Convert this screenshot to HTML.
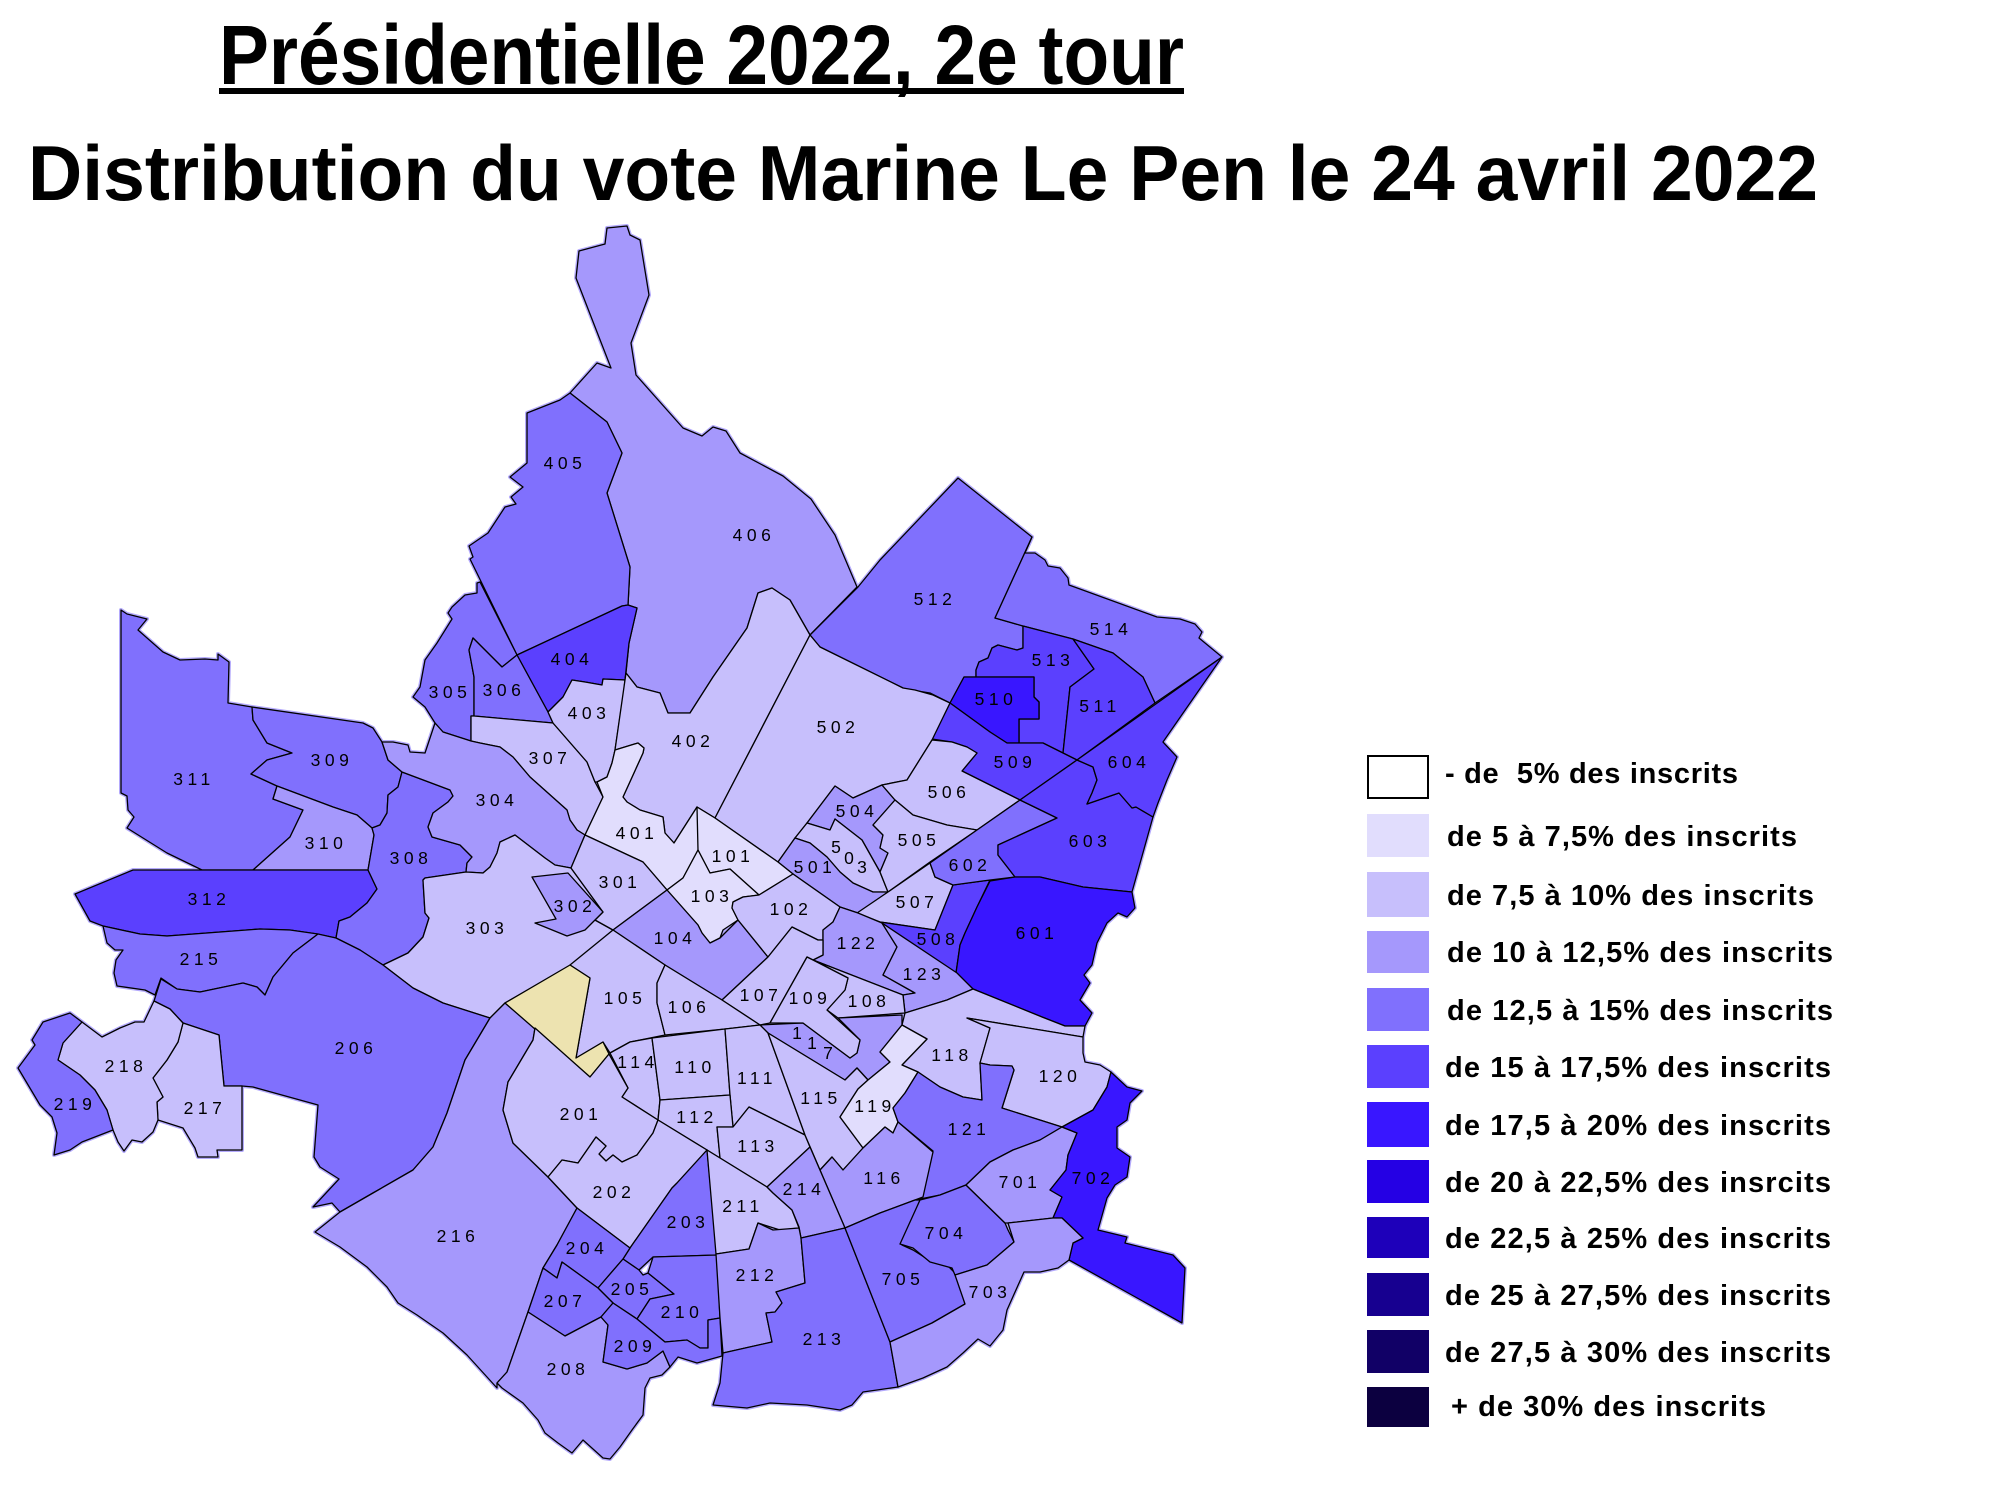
<!DOCTYPE html>
<html>
<head>
<meta charset="utf-8">
<style>
html,body{margin:0;padding:0;background:#fff;}
svg{display:block;}
.l{font-family:"Liberation Sans",sans-serif;font-size:17.5px;letter-spacing:4.5px;text-anchor:middle;fill:#000;}
.s{font-family:"Liberation Sans",sans-serif;font-size:17.5px;text-anchor:middle;fill:#000;}
.lg{font-family:"Liberation Sans",sans-serif;font-weight:bold;font-size:29px;fill:#000;}
.t{font-family:"Liberation Sans Narrow","Liberation Sans",sans-serif;font-weight:bold;fill:#000;}
</style>
</head>
<body>
<svg width="2000" height="1500" viewBox="0 0 2000 1500" xmlns="http://www.w3.org/2000/svg" xmlns:xlink="http://www.w3.org/1999/xlink">
<rect x="0" y="0" width="2000" height="1500" fill="#fff"/>

<defs>
<g id="map">
<!-- North 400s -->
<polygon fill="#A598FC" points="607,228 627,226 630,235 640,240 649,295 631,343 636,375 683,428 702,436 713,427 726,431 740,453 783,476 811,499 835,535 857,587 810,635 790,600 772,588 758,593 747,628 713,677 690,713 668,713 660,693 637,687 626,673 629,643 637,608 628,605 630,567 607,493 622,453 607,422 570,393 597,363 611,368 576,278 579,251 605,244"/>
<polygon fill="#8070FD" points="570,393 560,400 527,413 527,463 510,477 523,487 511,497 516,504 505,507 488,533 469,546 473,557 470,559 517,655 622,606 628,605 630,567 607,493 622,453 607,422"/>
<polygon fill="#5B40FE" points="517,655 622,606 628,605 637,608 629,643 625,680 603,679 602,685 585,682 572,680 563,697 548,712"/>
<polygon fill="#8070FD" points="480,582 517,655 502,667 473,638 469,650 474,677 474,716 471,716 471,741 443,732 435,723 425,707 413,697 420,687 425,660 437,643 452,619 448,613 452,607 465,595 477,593 477,583"/>
<polygon fill="#8070FD" points="473,638 502,667 517,655 548,712 553,723 474,716 474,677 469,650"/>
<polygon fill="#C7BFFC" points="474,716 553,723 587,762 595,782 603,797 585,835 577,830 570,820 567,810 530,777 513,757 500,747 480,743 471,741 471,716"/>
<polygon fill="#C7BFFC" points="548,712 563,697 572,680 585,682 602,685 603,679 625,680 624,690 615,750 612,763 607,777 597,782 595,782 587,762 553,723"/>
<polygon fill="#C7BFFC" points="625,680 626,673 637,687 660,693 668,713 690,713 713,677 747,628 758,593 772,588 790,600 810,635 715,818 697,807 674,843 665,833 663,817 640,810 627,802 623,797 643,753 644,748 638,743 615,750"/>
<polygon fill="#E1DDFD" points="603,797 597,782 607,777 612,763 615,750 638,743 644,748 643,753 623,797 627,802 640,810 663,817 665,833 674,843 697,807 715,818 698,850 683,878 667,890 643,862 585,835"/>

<!-- 500s -->
<polygon fill="#8070FD" points="858,587 880,560 958,478 1032,537 995,618 1023,626 1023,648 1017,650 998,645 992,648 988,658 979,662 976,670 976,677 964,677 950,703 930,693 905,689 903,688 820,647 810,635"/>
<polygon fill="#8070FD" points="1032,537 1025,553 1035,553 1045,560 1048,566 1060,568 1068,578 1069,585 1157,617 1180,619 1195,624 1202,632 1199,638 1222,657 1155,703 1143,677 1113,653 1073,639 1023,626 995,618"/>
<polygon fill="#5B40FE" points="976,677 976,670 979,662 988,658 992,648 998,645 1017,650 1023,648 1023,626 1073,639 1094,669 1070,687 1063,753 1043,743 1019,743 1019,719 1039,719 1039,702 1034,697 1034,677"/>
<polygon fill="#5B40FE" points="1073,639 1113,653 1143,677 1155,703 1077,760 1063,753 1070,687 1094,669"/>
<polygon fill="#3916FF" points="964,677 1034,677 1034,697 1039,702 1039,719 1019,719 1019,743 1007,743 990,732 950,703"/>
<polygon fill="#5B40FE" points="932,739 950,703 990,732 1007,743 1043,743 1063,753 1077,760 1020,800 962,771 977,753 967,747 952,742"/>
<polygon fill="#C7BFFC" points="810,635 820,647 903,688 915,690 933,695 950,703 932,740 907,780 882,785 853,798 835,786 807,823 795,838 778,862 715,818"/>
<polygon fill="#A598FC" points="835,786 853,798 882,785 895,800 873,825 883,835 880,848 888,853 880,872 862,840 835,819 830,830 807,823"/>
<polygon fill="#C7BFFC" points="795,838 807,823 830,830 835,819 862,840 880,872 888,892 873,892 853,883 840,872 827,857 810,843"/>
<polygon fill="#A598FC" points="778,862 795,838 810,843 827,857 840,872 853,883 873,892 888,892 858,913 840,907 793,874"/>
<polygon fill="#C7BFFC" points="882,785 907,780 932,740 952,742 967,747 977,753 962,771 1020,800 977,830 947,825 913,815 895,800"/>
<polygon fill="#C7BFFC" points="895,800 913,815 947,825 977,830 930,862 888,892 880,872 888,853 880,848 883,835 873,825"/>
<polygon fill="#C7BFFC" points="930,863 935,877 953,885 935,930 880,922 857,913 888,892"/>
<polygon fill="#5B40FE" points="953,885 990,880 977,907 965,933 960,945 956,973 883,925 880,922 935,930"/>

<!-- 600s -->
<polygon fill="#8070FD" points="1020,800 1057,818 998,845 998,855 1015,877 990,880 953,885 935,877 930,863 977,830"/>
<polygon fill="#5B40FE" points="1020,800 1077,760 1093,767 1097,780 1092,793 1087,804 1119,793 1132,808 1136,807 1153,817 1132,892 1083,887 1040,877 1015,877 998,855 998,845 1057,818"/>
<polygon fill="#5B40FE" points="1222,657 1163,742 1177,757 1167,780 1158,803 1153,817 1136,807 1132,808 1119,793 1087,804 1092,793 1097,780 1093,767 1077,760"/>
<polygon fill="#3916FF" points="990,881 1015,877 1040,877 1083,887 1132,892 1135,908 1127,917 1118,913 1107,923 1097,943 1092,965 1084,975 1090,983 1080,1000 1092,1013 1085,1026 1065,1026 1042,1017 973,989 956,973 960,945 965,933 977,907"/>

<!-- West 300s -->
<polygon fill="#8070FD" points="121,610 127,614 147,619 138,630 163,652 180,660 205,659 218,660 218,654 229,662 228,703 252,707 253,720 267,743 292,753 267,760 251,774 277,786 273,799 303,810 290,837 253,870 202,870 167,853 127,828 134,817 128,810 127,796 121,793"/>
<polygon fill="#8070FD" points="252,707 363,723 373,728 382,742 388,760 402,772 398,787 388,795 387,813 380,825 372,828 357,815 333,807 277,786 251,774 267,760 292,753 267,743 253,720"/>
<polygon fill="#A598FC" points="277,786 333,807 357,815 372,828 374,835 368,870 253,870 290,837 303,810 273,799"/>
<polygon fill="#5B40FE" points="133,870 368,870 377,889 367,903 350,917 339,921 336,938 317,934 290,930 260,929 207,933 167,936 140,934 103,926 90,921 75,894"/>
<polygon fill="#8070FD" points="103,926 140,934 167,936 207,933 260,929 290,930 318,934 293,953 273,977 265,995 257,987 243,983 200,992 177,989 161,978 155,995 145,990 117,986 114,973 116,960 123,950 115,950 107,943"/>
<polygon fill="#8070FD" points="402,772 450,790 453,796 448,802 433,813 428,827 432,837 460,845 472,857 467,863 466,872 425,878 423,880 425,913 429,918 423,937 408,953 383,965 360,950 336,938 339,921 350,917 367,903 377,889 368,870 374,835 372,828 380,825 387,813 388,795 398,787"/>
<polygon fill="#A598FC" points="382,742 393,742 408,745 410,752 425,753 435,723 443,732 471,741 480,743 500,747 513,757 530,777 567,810 570,820 577,830 585,835 571,868 555,865 545,858 515,835 500,842 497,853 490,867 483,873 466,872 467,863 472,857 460,845 432,837 428,827 433,813 448,802 453,796 450,790 402,772 388,760"/>
<polygon fill="#C7BFFC" points="466,872 483,873 490,867 497,853 500,842 515,835 545,858 555,865 571,868 603,912 595,920 613,930 572,965 505,1003 490,1018 443,1003 413,988 383,965 408,953 423,937 429,918 425,913 423,880 425,878"/>
<polygon fill="#C7BFFC" points="585,835 643,862 667,890 613,930 595,920 603,912 571,868"/>
<polygon fill="#A598FC" points="532,877 568,873 603,912 585,930 567,936 535,923 556,919"/>

<!-- South-west 200s -->
<polygon fill="#8070FD" points="318,934 336,938 360,950 383,965 413,988 443,1003 490,1018 465,1060 447,1113 433,1147 413,1170 373,1193 340,1212 332,1203 313,1207 339,1179 320,1167 314,1157 318,1105 253,1087 242,1086 224,1086 219,1035 183,1023 170,1009 154,1001 161,979 177,989 200,992 243,983 257,987 265,995 273,977 293,953"/>
<polygon fill="#A598FC" points="490,1018 505,1003 535,1028 533,1040 527,1050 508,1082 503,1110 513,1143 548,1177 577,1208 557,1245 543,1268 528,1312 507,1372 497,1383 497,1388 467,1355 443,1333 417,1315 398,1303 387,1287 367,1267 340,1247 315,1232 340,1212 373,1193 413,1170 433,1147 447,1113 465,1060"/>
<polygon fill="#C7BFFC" points="183,1023 219,1035 224,1086 242,1086 242,1150 217,1150 218,1157 198,1157 195,1148 183,1128 158,1120 157,1102 163,1097 153,1078 167,1060 178,1042"/>
<polygon fill="#C7BFFC" points="82,1022 102,1037 120,1028 135,1022 144,1022 154,1001 170,1009 183,1023 178,1042 167,1060 153,1078 163,1097 157,1102 158,1120 153,1132 142,1142 132,1140 124,1151 118,1142 113,1130 107,1110 95,1090 80,1075 58,1060 63,1043"/>
<polygon fill="#8070FD" points="18,1068 35,1045 32,1040 43,1022 70,1013 82,1022 63,1043 58,1060 80,1075 95,1090 107,1110 113,1130 82,1142 70,1150 54,1155 57,1133 52,1117 40,1105"/>

<!-- Central 100s / 200s -->
<polygon fill="#E1DDFD" points="697,807 715,818 778,862 793,874 759,895 730,869 710,873 698,850"/>
<polygon fill="#E1DDFD" points="698,850 710,873 730,869 759,895 743,897 733,902 732,908 738,920 723,930 720,938 710,943 702,933 698,925 667,890 683,878"/>
<polygon fill="#A598FC" points="667,890 698,925 702,933 710,943 720,938 738,920 768,957 722,1000 665,965 613,930"/>
<polygon fill="#C7BFFC" points="759,895 793,874 840,907 833,922 823,930 823,940 818,940 792,927 768,957 738,920 732,908 733,902 743,897"/>
<polygon fill="#A598FC" points="840,907 858,913 882,923 897,947 883,975 915,993 903,995 813,960 823,955 823,940 823,930 833,922"/>
<polygon fill="#A598FC" points="882,923 957,973 973,989 947,1000 905,1013 903,995 915,993 883,975 897,947"/>
<polygon fill="#C7BFFC" points="768,957 792,927 818,940 823,940 823,955 813,960 807,957 770,1023 760,1025 722,1000"/>
<polygon fill="#C7BFFC" points="813,960 903,995 905,1013 838,1018 827,1010 845,990 848,978"/>
<polygon fill="#A598FC" points="760,1025 803,1023 850,1058 857,1053 860,1040 838,1018 902,1015 902,1025 880,1052 890,1062 868,1080 857,1068 845,1080 768,1033"/>
<polygon fill="#C7BFFC" points="807,957 813,960 848,978 845,990 827,1010 860,1040 857,1053 850,1058 803,1023 770,1023"/>
<polygon fill="#C7BFFC" points="613,930 665,965 657,983 657,1003 665,1035 630,1042 610,1053 603,1042 576,1058 590,978 570,965"/>
<polygon fill="#EDE3B0" points="505,1003 570,965 590,978 576,1058 603,1042 609,1054 590,1077"/>
<polygon fill="#C7BFFC" points="665,965 722,1000 760,1025 725,1029 665,1035 657,1003 657,983"/>
<polygon fill="#C7BFFC" points="610,1053 630,1042 652,1038 660,1100 658,1120 622,1097 628,1088"/>
<polygon fill="#C7BFFC" points="652,1038 725,1029 730,1095 660,1100"/>
<polygon fill="#C7BFFC" points="725,1029 760,1025 768,1033 805,1135 749,1107 733,1127 730,1095"/>
<polygon fill="#C7BFFC" points="660,1100 730,1095 733,1127 717,1127 720,1158 658,1120"/>
<polygon fill="#C7BFFC" points="717,1127 733,1127 749,1107 805,1135 810,1147 767,1187 720,1158"/>
<polygon fill="#C7BFFC" points="768,1033 845,1080 857,1068 868,1080 858,1089 840,1117 863,1148 843,1170 832,1157 820,1170 805,1135"/>
<polygon fill="#C7BFFC" points="905,1013 947,1000 973,989 1042,1017 1065,1026 1085,1026 1083,1037 967,1018 990,1028 980,1063 982,1100 963,1097 940,1087 918,1072 902,1065 927,1039 902,1025"/>
<polygon fill="#C7BFFC" points="967,1018 1083,1037 1083,1053 1085,1062 1100,1065 1111,1072 1107,1087 1093,1110 1062,1127 1002,1108 1014,1070 1012,1066 990,1065 980,1063 990,1028"/>
<polygon fill="#E1DDFD" points="902,1025 927,1039 902,1065 918,1072 905,1093 893,1108 898,1122 893,1133 885,1127 863,1148 840,1117 858,1089 868,1080 890,1062 880,1052"/>
<polygon fill="#8070FD" points="893,1108 905,1093 918,1072 940,1087 963,1097 982,1100 980,1063 990,1065 1012,1066 1014,1070 1002,1108 1062,1127 1040,1140 1013,1150 990,1162 966,1185 940,1195 915,1200 922,1190 933,1151 898,1122"/>
<polygon fill="#A598FC" points="898,1122 933,1152 923,1197 915,1200 880,1213 845,1228 820,1170 832,1157 843,1170 863,1148 885,1127 893,1133"/>
<polygon fill="#C7BFFC" points="535,1028 590,1077 609,1054 628,1088 622,1097 658,1120 653,1133 637,1155 622,1162 613,1155 606,1161 599,1154 606,1146 596,1137 578,1163 562,1160 548,1177 513,1143 503,1110 508,1082 527,1050 533,1040"/>
<polygon fill="#C7BFFC" points="548,1177 562,1160 578,1163 596,1137 606,1146 599,1154 606,1161 613,1155 622,1162 637,1155 653,1133 658,1120 707,1150 677,1183 672,1188 630,1248 577,1208"/>
<polygon fill="#8070FD" points="707,1150 717,1255 653,1257 639,1270 623,1259 630,1248 672,1188 677,1183"/>
<polygon fill="#8070FD" points="577,1208 630,1248 623,1259 598,1288 562,1262 557,1278 543,1268 557,1245"/>
<polygon fill="#8070FD" points="623,1259 639,1270 643,1275 648,1273 674,1294 650,1299 637,1319 613,1303 598,1288"/>
<polygon fill="#8070FD" points="543,1268 557,1278 562,1262 598,1288 613,1303 601,1317 565,1336 528,1312"/>
<polygon fill="#8070FD" points="653,1257 717,1255 720,1318 708,1320 708,1348 700,1348 687,1340 665,1342 637,1319 650,1299 674,1294 648,1273"/>
<polygon fill="#A598FC" points="528,1312 565,1336 601,1317 608,1325 603,1362 627,1369 647,1363 663,1351 670,1367 662,1375 650,1378 645,1388 643,1415 632,1430 620,1447 610,1459 603,1458 583,1440 572,1453 558,1443 545,1433 538,1420 523,1403 502,1388 497,1383 507,1372"/>
<polygon fill="#8070FD" points="601,1317 613,1303 637,1319 665,1342 687,1340 700,1348 708,1348 708,1320 720,1318 722,1356 697,1363 678,1357 670,1367 663,1351 647,1363 627,1369 603,1362 608,1325"/>
<polygon fill="#C7BFFC" points="707,1150 720,1158 767,1187 773,1193 792,1210 799,1228 780,1230 758,1223 749,1249 716,1254"/>
<polygon fill="#A598FC" points="767,1187 810,1147 845,1228 801,1238 799,1227 792,1210 773,1193"/>
<polygon fill="#A598FC" points="716,1254 749,1249 758,1223 773,1230 799,1228 801,1238 805,1283 776,1292 782,1303 775,1312 766,1313 772,1342 723,1353 720,1318"/>
<polygon fill="#8070FD" points="801,1238 845,1228 890,1342 898,1387 863,1392 852,1405 840,1410 807,1405 770,1403 747,1408 713,1405 720,1383 723,1353 772,1342 766,1313 775,1312 782,1303 776,1292 805,1283"/>

<!-- 700s -->
<polygon fill="#8070FD" points="845,1228 880,1213 915,1200 920,1200 902,1245 913,1250 932,1262 947,1265 957,1275 965,1304 932,1323 890,1342"/>
<polygon fill="#8070FD" points="920,1200 940,1195 966,1185 1005,1223 1008,1230 1014,1242 987,1265 955,1275 952,1268 930,1262 913,1248 900,1244"/>
<polygon fill="#A598FC" points="966,1185 990,1162 1013,1150 1040,1140 1062,1127 1077,1133 1068,1155 1066,1170 1050,1190 1062,1197 1053,1218 1008,1223 1005,1223"/>
<polygon fill="#3916FF" points="1062,1127 1093,1110 1107,1087 1111,1072 1112,1073 1127,1087 1142,1091 1130,1103 1127,1120 1117,1127 1117,1148 1130,1157 1127,1177 1115,1185 1107,1198 1098,1230 1127,1237 1125,1243 1173,1255 1185,1268 1182,1323 1069,1260 1073,1243 1083,1238 1062,1218 1053,1218 1062,1197 1050,1190 1066,1170 1068,1155 1077,1133"/>
<polygon fill="#A598FC" points="1008,1223 1053,1218 1062,1218 1083,1238 1073,1243 1069,1260 1058,1268 1040,1272 1024,1272 1007,1310 1003,1330 990,1346 978,1339 963,1353 947,1367 923,1378 898,1387 890,1342 932,1323 965,1304 955,1275 987,1265 1014,1242"/>
</g>
</defs>

<!-- underlay to fill seams -->
<g stroke="#B4AAFC" stroke-width="4" stroke-linejoin="round"><use xlink:href="#map" href="#map"/></g>
<!-- main map -->
<g stroke="#000" stroke-width="1.3" stroke-linejoin="round"><use xlink:href="#map" href="#map"/></g>

<!-- Titles -->
<text class="t" x="219" y="84" font-size="84" textLength="965" lengthAdjust="spacingAndGlyphs">Présidentielle 2022, 2e tour</text>
<rect x="219" y="88" width="965" height="6" fill="#000"/>
<text class="t" x="28" y="200" font-size="78" textLength="1790" lengthAdjust="spacingAndGlyphs">Distribution du vote Marine Le Pen le 24 avril 2022</text>

<!-- Labels -->
<g class="l">
<text x="565" y="469">405</text>
<text x="754" y="541">406</text>
<text x="935" y="605">512</text>
<text x="1111" y="635">514</text>
<text x="1053" y="666">513</text>
<text x="996" y="705">510</text>
<text x="1100" y="712">511</text>
<text x="1015" y="768">509</text>
<text x="1129" y="768">604</text>
<text x="1090" y="847">603</text>
<text x="970" y="871">602</text>
<text x="1037" y="939">601</text>
<text x="938" y="945">508</text>
<text x="917" y="908">507</text>
<text x="949" y="798">506</text>
<text x="919" y="846">505</text>
<text x="857" y="817">504</text>
<text x="815" y="873">501</text>
<text x="838" y="733">502</text>
<text x="572" y="665">404</text>
<text x="589" y="719">403</text>
<text x="693" y="747">402</text>
<text x="637" y="839">401</text>
<text x="450" y="698">305</text>
<text x="504" y="696">306</text>
<text x="550" y="764">307</text>
<text x="497" y="806">304</text>
<text x="332" y="766">309</text>
<text x="194" y="785">311</text>
<text x="326" y="849">310</text>
<text x="411" y="864">308</text>
<text x="209" y="905">312</text>
<text x="487" y="934">303</text>
<text x="575" y="912">302</text>
<text x="620" y="888">301</text>
<text x="733" y="862">101</text>
<text x="712" y="902">103</text>
<text x="791" y="915">102</text>
<text x="675" y="944">104</text>
<text x="858" y="949">122</text>
<text x="924" y="980">123</text>
<text x="625" y="1004">105</text>
<text x="689" y="1013">106</text>
<text x="761" y="1001">107</text>
<text x="810" y="1004">109</text>
<text x="869" y="1007">108</text>
<text x="952" y="1061">118</text>
<text x="1060" y="1082">120</text>
<text x="638" y="1068">114</text>
<text x="695" y="1073">110</text>
<text x="757" y="1084">111</text>
<text x="821" y="1104">115</text>
<text x="875" y="1112">119</text>
<text x="969" y="1135">121</text>
<text x="697" y="1123">112</text>
<text x="758" y="1152">113</text>
<text x="581" y="1120">201</text>
<text x="614" y="1198">202</text>
<text x="884" y="1184">116</text>
<text x="804" y="1195">214</text>
<text x="743" y="1212">211</text>
<text x="688" y="1228">203</text>
<text x="1020" y="1188">701</text>
<text x="1093" y="1184">702</text>
<text x="946" y="1239">704</text>
<text x="587" y="1254">204</text>
<text x="632" y="1295">205</text>
<text x="565" y="1307">207</text>
<text x="682" y="1318">210</text>
<text x="757" y="1281">212</text>
<text x="903" y="1285">705</text>
<text x="990" y="1298">703</text>
<text x="635" y="1352">209</text>
<text x="824" y="1345">213</text>
<text x="568" y="1375">208</text>
<text x="458" y="1242">216</text>
<text x="356" y="1054">206</text>
<text x="201" y="965">215</text>
<text x="126" y="1072">218</text>
<text x="205" y="1114">217</text>
<text x="75" y="1110">219</text>
</g>
<g class="s">
<text x="836" y="853">5</text>
<text x="849" y="864">0</text>
<text x="862" y="873">3</text>
<text x="797" y="1039">1</text>
<text x="812" y="1049">1</text>
<text x="828" y="1059">7</text>
</g>

<!-- Legend -->
<rect x="1368" y="756" width="60" height="42" fill="#fff" stroke="#000" stroke-width="2"/>
<rect x="1367" y="814" width="62" height="43" fill="#E1DDFD"/>
<rect x="1367" y="872" width="62" height="45" fill="#C7BFFC"/>
<rect x="1367" y="931" width="62" height="42" fill="#A598FC"/>
<rect x="1367" y="988" width="62" height="43" fill="#8070FD"/>
<rect x="1367" y="1045" width="62" height="43" fill="#5B40FE"/>
<rect x="1367" y="1102" width="62" height="45" fill="#3916FF"/>
<rect x="1367" y="1160" width="62" height="43" fill="#2500E4"/>
<rect x="1367" y="1217" width="62" height="41" fill="#1E00BA"/>
<rect x="1367" y="1273" width="62" height="43" fill="#170090"/>
<rect x="1367" y="1330" width="62" height="43" fill="#110066"/>
<rect x="1367" y="1387" width="62" height="40" fill="#0C0040"/>

<g class="lg">
<text x="1445" y="783" textLength="293" lengthAdjust="spacing">- de&#160;&#160;5% des inscrits</text>
<text x="1447" y="846" textLength="350" lengthAdjust="spacing">de 5 à 7,5% des inscrits</text>
<text x="1447" y="905" textLength="367" lengthAdjust="spacing">de 7,5 à 10% des inscrits</text>
<text x="1447" y="962" textLength="386" lengthAdjust="spacing">de 10 à 12,5% des inscrits</text>
<text x="1447" y="1020" textLength="386" lengthAdjust="spacing">de 12,5 à 15% des inscrits</text>
<text x="1445" y="1077" textLength="386" lengthAdjust="spacing">de 15 à 17,5% des inscrits</text>
<text x="1445" y="1135" textLength="386" lengthAdjust="spacing">de 17,5 à 20% des inscrits</text>
<text x="1445" y="1192" textLength="386" lengthAdjust="spacing">de 20 à 22,5% des insrcits</text>
<text x="1445" y="1248" textLength="386" lengthAdjust="spacing">de 22,5 à 25% des inscrits</text>
<text x="1445" y="1305" textLength="386" lengthAdjust="spacing">de 25 à 27,5% des inscrits</text>
<text x="1445" y="1362" textLength="386" lengthAdjust="spacing">de 27,5 à 30% des inscrits</text>
<text x="1451" y="1416" textLength="315" lengthAdjust="spacing">+ de 30% des inscrits</text>
</g>
</svg>
</body>
</html>
